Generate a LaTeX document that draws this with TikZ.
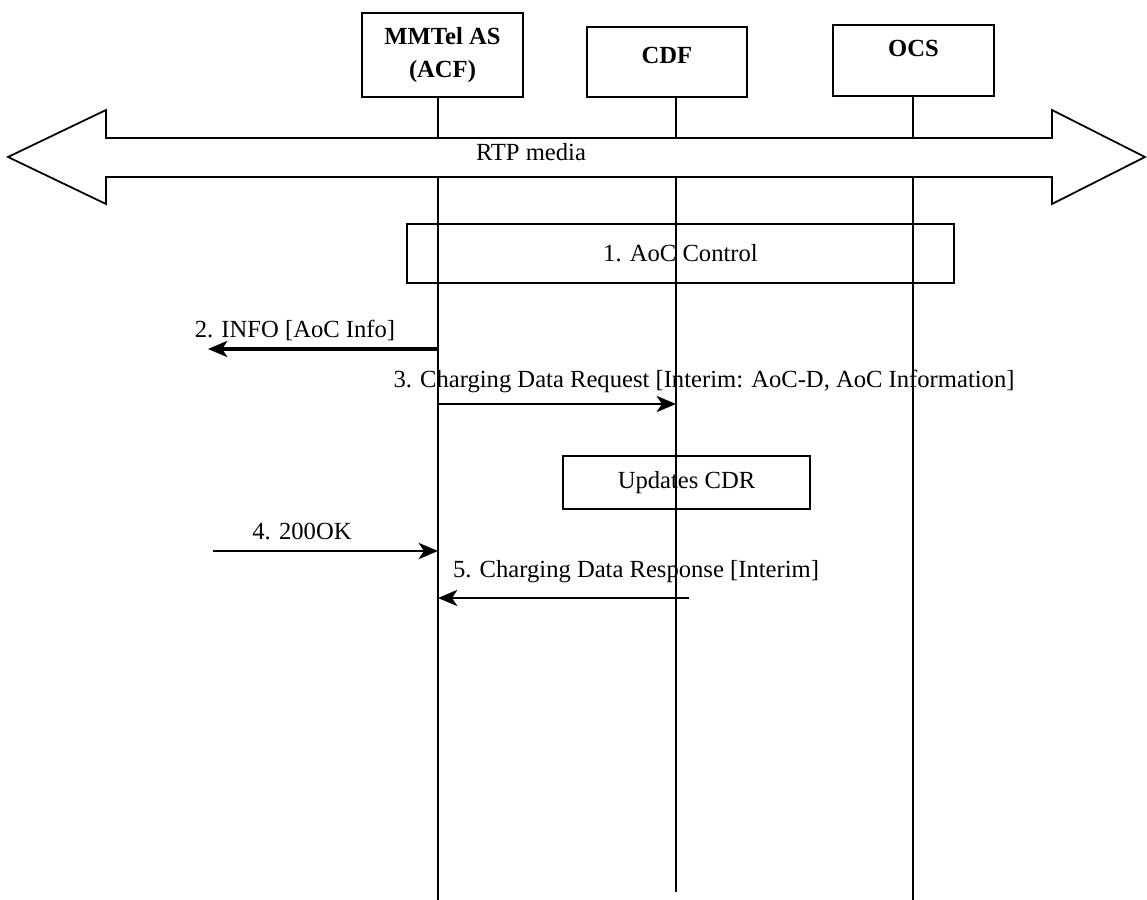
\documentclass[tikz,border=0pt]{standalone}
\usepackage{fontspec}
\setmainfont{Liberation Serif}
\usetikzlibrary{arrows.meta}

\tikzset{
  ent/.style={draw, line width=0.5pt, inner sep=0pt, font=\fontsize{7}{9.2}\selectfont\bfseries},
  stepbox/.style={draw, line width=0.5pt, inner sep=0pt},
  life/.style={line width=0.5pt},
  msg/.style={line width=0.75pt, -{Stealth[length=5.5pt,width=4.6pt,inset=1.5pt]}},
  lbl/.style={inner sep=0pt},
}

\begin{document}
\begin{tikzpicture}[x=0.01cm, y=-0.01cm, font=\fontsize{7}{8.4}\selectfont]
        \useasboundingbox (0,0) rectangle (1147,900);
        % entities
        \node[ent, minimum width=1.61cm, minimum height=0.84cm, align=center] (acf) at (442.5,55) {MMTel AS\\(ACF)};
        \node[ent, minimum width=1.60cm, minimum height=0.70cm, text height=0.16cm, text depth=0.13cm] (cdf) at (667,62) {CDF};
        \node[ent, minimum width=1.61cm, minimum height=0.71cm, text height=0.16cm, text depth=0.24cm] (ocs) at (913.5,60.5) {OCS};
        \coordinate (acfT) at (438,138); \coordinate (acfB) at (438,177); \coordinate (acfE) at (438,900);
        \coordinate (cdfT) at (676,138); \coordinate (cdfB) at (676,177); \coordinate (cdfE) at (676,892);
        \coordinate (ocsT) at (913,138); \coordinate (ocsB) at (913,177); \coordinate (ocsE) at (913,900);
        \draw[life] (acf.south -| acfT) -- (acfT)   (acfB) -- (acfE);
        \draw[life] (cdf.south -| cdfT) -- (cdfT)   (cdfB) -- (cdfE);
        \draw[life] (ocs.south -| ocsT) -- (ocsT)   (ocsB) -- (ocsE);
        % media
        \draw[line width=0.5pt] (8,157) -- (106,110) -- (106,138) -- (1052,138) -- (1052,110) -- (1145,157)
              -- (1052,204) -- (1052,177) -- (106,177) -- (106,204) -- cycle;
        \node[lbl] (rtp) at (531,152) {RTP media};
        % steps
        \node[stepbox, minimum width=5.47cm, minimum height=0.59cm] (aoc) at (680.5,253.5) {1. AoC Control};
        \node[stepbox, minimum width=2.47cm, minimum height=0.53cm] (upd) at (686.5,482.5) {Updates CDR};
        % messages
        \coordinate (out2) at (208,349);
        \coordinate (in4) at (213,551);
        \coordinate (cdf5) at (689,598);
        \draw[msg, line width=1.1pt] (acfB |- out2) -- (out2);
        \node[lbl] (t2) at (295,330) {2. INFO [AoC Info]};
        \draw[msg] (acfB |- 0,404) -- (cdfB |- 0,404);
        \node[lbl] (t3) at (704,381) {3. Charging Data Request [Interim: AoC-D, AoC Information]};
        \draw[msg] (in4) -- (acfB |- in4);
        \node[lbl] (t4) at (302,531) {4. 200OK};
        \draw[msg] (cdf5) -- (acfB |- cdf5);
        \node[lbl] (t5) at (636,572) {5. Charging Data Response [Interim]};
      \end{tikzpicture}
\end{document}
